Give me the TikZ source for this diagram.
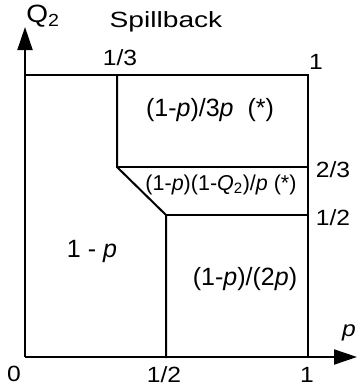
\documentclass[tikz,border=0pt]{standalone}
\usepackage{fontspec}
\setmainfont{Liberation Sans}
\usetikzlibrary{arrows.meta}
\tikzset{
  edge/.style={line width=2pt, line cap=rect},
  axis/.style={line width=2pt, -{Triangle[length=23pt,width=15pt]}},
  tick/.style={inner sep=0pt, font=\fontsize{22}{26}\selectfont},
  region/.style={inner sep=0pt, font=\fontsize{25}{30}\selectfont},
}
\begin{document}
\begin{tikzpicture}[x=1pt,y=-1pt]
\useasboundingbox (0,0) rectangle (360,386);
\coordinate (O) at (25,357);
\coordinate (X) at (357,357);
\coordinate (Y) at (25,27);
\coordinate (TL) at (25,75);
\coordinate (TR) at (308,75);
\coordinate (BR) at (308,357);
\coordinate (A) at (117,75);
\coordinate (B) at (117,167);
\coordinate (C) at (308,167);
\coordinate (D) at (166,215);
\coordinate (E) at (308,215);
\coordinate (F) at (166,357);
\draw[axis] (O) -- (X);
\draw[axis] (O) -- (Y);
\draw[edge] (TL) -- (TR) -- (BR);
\draw[edge] (A) -- (B) -- (D) -- (F);
\draw[edge] (B) -- (C);
\draw[edge] (D) -- (E);
\node[tick] (q2) at (43,16) {\fontsize{25}{30}\selectfont\scalebox{1.12}[1]{Q\textsubscript{2}}};
\node[tick] (spill) at (166,22) {\scalebox{1.28}[1]{Spillback}};
\node[tick] (t13) at (120,58) {\scalebox{1.12}[1]{1/3}};
\node[tick] (t1a) at (316,62) {\scalebox{1.12}[1]{1}};
\node[tick] (t23) at (333,170) {\scalebox{1.12}[1]{2/3}};
\node[tick] (t12r) at (333,218) {\scalebox{1.12}[1]{1/2}};
\node[tick] (t0) at (14,374) {\scalebox{1.12}[1]{0}};
\node[tick] (t12b) at (164,375) {\scalebox{1.12}[1]{1/2}};
\node[tick] (t1b) at (307,375) {\scalebox{1.12}[1]{1}};
\node[tick] (tp) at (349,333) {\scalebox{1.12}[1]{\textit{p}}};
\node[region] (r1) at (210,110) {(1-\textit{p})/3\textit{p}\ \ (*)};
\node[region] (r2) at (221,185) {\fontsize{21.5}{25}\selectfont(1-\textit{p})(1-\textit{Q}\textsubscript{2})/\textit{p} (*)};
\node[region] (r3) at (92,251) {1 - \textit{p}};
\node[region] (r4) at (245,279) {(1-\textit{p})/(2\textit{p})};
\end{tikzpicture}
\end{document}
